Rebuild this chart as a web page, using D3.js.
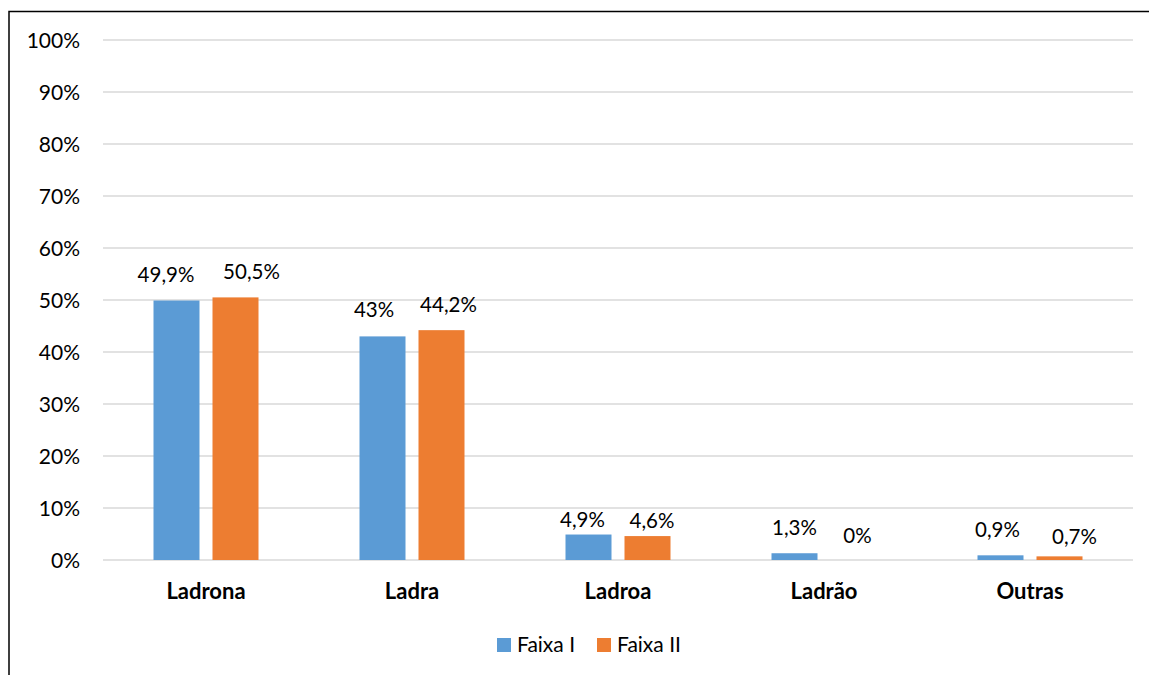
<!DOCTYPE html>
<html>
<head>
<meta charset="utf-8">
<script src="https://cdn.jsdelivr.net/npm/d3@7"></script>
<style>
  html, body { margin: 0; padding: 0; background: #fff; }
  svg { display: block; }
  text { font-family: Lato, "Open Sans", sans-serif; fill: #000; }
</style>
</head>
<body>
<svg id="chart" width="1149" height="675"></svg>
<script>
// Categories and series
const categories = ["Ladrona", "Ladra", "Ladroa", "Ladrão", "Outras"];
const seriesNames = ["Faixa I", "Faixa II"];
const faixaI  = [49.9, 43, 4.9, 1.3, 0.9];
const faixaII = [50.5, 44.2, 4.6, 0, 0.7];
const valueLabels = [
  ["49,9%", "43%", "4,9%", "1,3%", "0,9%"],
  ["50,5%", "44,2%", "4,6%", "0%", "0,7%"]
];
const tickValues = [0, 10, 20, 30, 40, 50, 60, 70, 80, 90, 100];
const colors = ["#5B9BD5", "#ED7D31"];

// Hand-placed nudges of the value labels (dx, dy in px)
const labelNudge = [
  [[-10.5, 0], [-8.5, -1], [-6, 10.5], [0, 0.3], [-3, 0]],
  [[16, 0.3], [7, 0.3], [4.5, 10.8], [4, 1], [15, 6]]
];

const series = [faixaI, faixaII];
const svg = d3.select("#chart");

// Outer frame (top and left edges)
svg.append("path")
  .attr("d", "M9,675 V11.5 H1149")
  .attr("fill", "none")
  .attr("stroke", "#000")
  .attr("stroke-width", 1.5);

const plot = { left: 103, right: 1133, top: 40, bottom: 560 };

const y = d3.scaleLinear().domain([0, 100]).range([plot.bottom, plot.top]);
const x0 = d3.scaleBand().domain(categories).range([plot.left, plot.right]).padding(0);
const x1 = d3.scaleBand().domain(seriesNames).range([0, x0.bandwidth()])
  .paddingInner(0.2203).paddingOuter(0.8559);

// Gridlines
svg.append("g").selectAll("line")
  .data(tickValues)
  .join("line")
  .attr("x1", plot.left).attr("x2", plot.right)
  .attr("y1", d => y(d)).attr("y2", d => y(d))
  .attr("stroke", "#d9d9d9")
  .attr("stroke-width", 1.5);

// Y axis labels
const yAxis = d3.axisLeft(y).tickValues(tickValues).tickFormat(d => d + "%").tickSize(0).tickPadding(0);
const gy = svg.append("g").attr("transform", `translate(${plot.left - 23},0)`).call(yAxis);
gy.select(".domain").remove();
gy.selectAll("text")
  .attr("font-size", 21)
  .attr("font-family", "Lato, sans-serif")
  .attr("fill", "#000")
  .attr("dy", "0.36em");

// Category labels
const xAxis = d3.axisBottom(x0).tickSize(0).tickPadding(0);
const gx = svg.append("g").attr("transform", `translate(0,${plot.bottom})`).call(xAxis);
gx.select(".domain").remove();
gx.selectAll("text")
  .attr("y", 39)
  .attr("dy", 0)
  .attr("font-size", 22)
  .attr("font-weight", "bold")
  .attr("font-family", "Lato, sans-serif")
  .attr("fill", "#000");

// Bars
const groups = svg.append("g").selectAll("g")
  .data(series)
  .join("g")
  .attr("fill", (d, i) => colors[i]);

groups.each(function (vals, si) {
  d3.select(this).selectAll("rect")
    .data(vals)
    .join("rect")
    .attr("x", (d, ci) => x0(categories[ci]) + x1(seriesNames[si]))
    .attr("width", x1.bandwidth())
    .attr("y", d => y(d))
    .attr("height", d => y(0) - y(d));

  d3.select(this).selectAll("text")
    .data(vals)
    .join("text")
    .attr("x", (d, ci) => x0(categories[ci]) + x1(seriesNames[si]) + x1.bandwidth() / 2 + labelNudge[si][ci][0])
    .attr("y", (d, ci) => y(d) - 18.5 + labelNudge[si][ci][1])
    .attr("text-anchor", "middle")
    .attr("font-size", 20.5)
    .attr("fill", "#000")
    .text((d, ci) => valueLabels[si][ci]);
});

// Legend
const legend = svg.append("g");
const legendX = [497, 597];
seriesNames.forEach((name, i) => {
  legend.append("rect")
    .attr("x", legendX[i]).attr("y", 638)
    .attr("width", 14).attr("height", 14)
    .attr("fill", colors[i]);
  legend.append("text")
    .attr("x", legendX[i] + 20).attr("y", 652)
    .attr("font-size", 21)
    .text(name);
});
</script>
</body>
</html>
